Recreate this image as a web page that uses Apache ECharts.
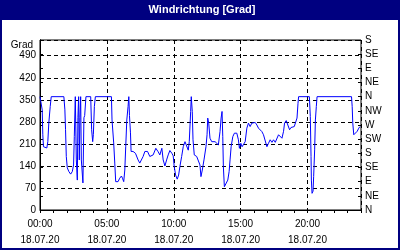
<!DOCTYPE html>
<html><head><meta charset="utf-8">
<script src="https://cdn.jsdelivr.net/npm/echarts@6/dist/echarts.min.js"></script>
<style>html,body{margin:0;padding:0;background:#fff}#c{width:400px;height:250px}</style>
</head><body><div id="c"></div><script>
const hours = [0.0,0.09,0.165,0.21,0.26,0.39,0.51,0.585,0.66,0.765,0.84,1.785,1.86,1.91,1.965,2.04,2.16,2.29,2.415,2.51,2.565,2.64,2.715,2.79,2.835,2.89,2.94,2.985,3.04,3.09,3.21,3.285,3.34,3.435,3.79,3.86,3.94,3.99,4.065,4.14,5.34,5.385,5.51,5.59,5.66,5.835,5.96,6.09,6.165,6.26,6.34,6.41,6.49,6.585,6.64,6.69,6.765,6.81,6.96,7.14,7.335,7.46,7.59,7.71,7.84,8.04,8.21,8.34,8.46,8.66,8.835,8.96,9.11,9.21,9.34,9.465,9.585,9.71,9.86,9.96,10.035,10.14,10.26,10.365,10.46,10.59,10.71,10.84,10.965,11.085,11.16,11.265,11.31,11.385,11.44,11.535,11.715,11.835,11.96,12.035,12.135,12.26,12.41,12.49,12.54,12.615,12.71,12.84,12.96,13.09,13.215,13.335,13.46,13.54,13.61,13.665,13.71,13.785,13.91,14.04,14.14,14.21,14.29,14.415,14.535,14.715,14.835,14.91,15.015,15.11,15.21,15.34,15.465,15.585,15.71,15.84,15.96,16.09,16.215,16.335,16.46,16.59,16.71,16.84,16.965,17.085,17.21,17.34,17.46,17.59,17.715,17.835,17.96,18.09,18.21,18.285,18.41,18.54,18.66,18.765,18.885,19.01,19.14,19.215,19.29,19.335,20.14,20.21,20.265,20.29,20.34,20.415,20.46,20.535,20.59,20.66,20.715,23.29,23.34,23.385,23.46,23.59,23.715,23.835,23.925];
const deg = [360,360,318,239,201,197,197,217,277,329,360,360,318,255,170,134,122,114,122,143,233,360,159,95,293,360,159,293,360,159,86,293,300,360,360,255,217,240,329,360,360,286,213,149,90,90,101,108,101,90,127,201,286,329,360,300,245,186,186,180,159,149,149,170,186,186,170,165,175,196,185,175,196,159,140,159,175,189,180,172,138,111,98,111,138,170,201,217,217,190,217,313,360,313,223,175,170,166,143,106,127,159,201,239,292,276,228,217,223,217,212,207,249,292,313,233,138,74,80,95,122,159,201,233,244,244,223,196,212,201,196,217,260,276,265,276,270,278,270,260,265,249,239,239,201,212,223,215,223,215,220,239,234,228,250,276,284,280,255,262,258,265,268,292,339,360,360,297,170,95,53,60,106,191,286,329,360,360,329,276,239,244,250,260,265];
const leftTicks = [0,70,140,210,280,350,420,490];
const compass = ['N','NE','E','SE','S','SW','W','NW','N','NE','E','SE','S'];
const timeLabels = ['00:00','05:00','10:00','15:00','20:00'];
const dateLabel = '18.07.20';
const FONT = 'Liberation Sans';

const chart = echarts.init(document.getElementById('c'), null, {renderer:'canvas'});
const dashed = {color:'#000', width:1, type:[4,3]};
chart.setOption({
  animation:false,
  backgroundColor:'#fff',
  graphic:[
    {type:'rect', shape:{x:0,y:0,width:400,height:20}, style:{fill:'#000080'}},
    {type:'rect', shape:{x:0,y:0,width:2,height:250}, style:{fill:'#000080'}},
    {type:'rect', shape:{x:398,y:0,width:2,height:250}, style:{fill:'#000080'}},
    {type:'rect', shape:{x:0,y:248,width:400,height:2}, style:{fill:'#000080'}},
    {type:'text', style:{x:202,y:10,text:'Windrichtung [Grad]',fill:'#fff',font:'bold 11px "'+FONT+'"',textAlign:'center',textVerticalAlign:'middle'}},
    {type:'text', style:{x:33,y:45,text:'Grad',fill:'#000',font:'10px "'+FONT+'"',textAlign:'right',textVerticalAlign:'middle'}}
  ],
  grid:{left:40,right:39,top:40,bottom:40,show:true,borderColor:'#000',borderWidth:1,backgroundColor:'transparent'},
  xAxis:[
    {type:'value',min:0,max:24,interval:1,position:'bottom',
     axisLine:{lineStyle:{color:'#000'}},axisTick:{show:true,length:3,lineStyle:{color:'#000'}},
     axisLabel:{show:false},splitLine:{show:false}},
    {type:'value',min:0,max:24,interval:5,position:'bottom',
     axisLine:{show:false},axisTick:{show:false},
     axisLabel:{margin:6,color:'#000',fontFamily:FONT,fontSize:10,lineHeight:16,
       formatter:v=>{const i=Math.round(v/5); return (v%5===0 && i<timeLabels.length)? timeLabels[i]+'\n'+dateLabel : '';}},
     splitLine:{show:true,lineStyle:dashed}}
  ],
  yAxis:[
    {type:'value',min:0,max:540,interval:70,position:'left',
     axisLine:{show:true,lineStyle:{color:'#000'}},axisTick:{show:false},
     axisLabel:{margin:4,color:'#000',fontFamily:FONT,fontSize:10,
       formatter:v=>leftTicks.indexOf(v)>=0?String(v):''},
     splitLine:{show:true,lineStyle:dashed}},
    {type:'value',min:0,max:540,interval:45,position:'right',
     axisLine:{show:true,lineStyle:{color:'#000'}},axisTick:{show:true,length:3,lineStyle:{color:'#000'}},
     axisLabel:{margin:4,color:'#000',fontFamily:FONT,fontSize:10,
       formatter:v=>compass[Math.round(v/45)]||''},
     splitLine:{show:false}},
    {type:'value',min:0,max:540,interval:45,position:'right',
     axisLine:{show:false},axisTick:{show:true,inside:true,length:3,lineStyle:{color:'#000'}},
     axisLabel:{show:false},splitLine:{show:false}}
  ],
  series:[{type:'line',xAxisIndex:0,yAxisIndex:0,showSymbol:false,
    data:hours.map((h,i)=>[h,deg[i]]),
    lineStyle:{color:'#0000ff',width:1},emphasis:{disabled:true}}]
});
</script></body></html>
